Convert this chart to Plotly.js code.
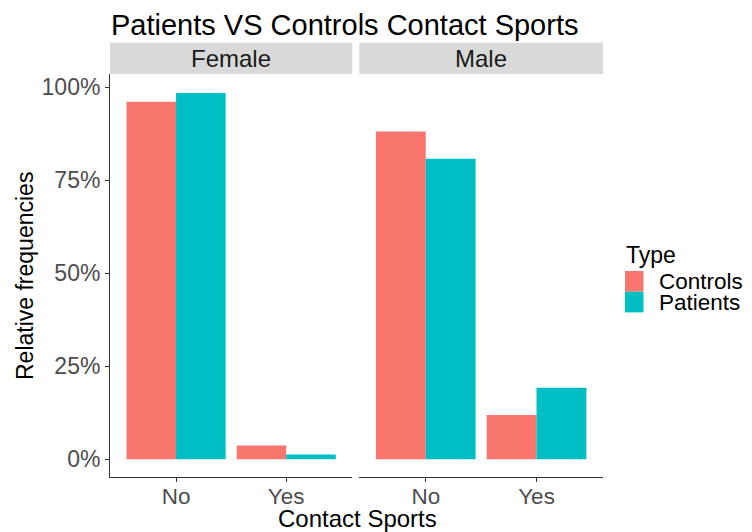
<!DOCTYPE html>
<html>
<head>
<meta charset="utf-8">
<script src="https://cdn.plot.ly/plotly-3.0.1.min.js"></script>
<style>html,body{margin:0;padding:0;background:#fff;}#chart{width:752px;height:532px;}</style>
</head>
<body>
<div id="chart"></div>
<script>
// Data
const panels = ["Female", "Male"];
const categories = ["No", "Yes"];
const controlsFemale = [0.961, 0.037];
const patientsFemale = [0.985, 0.013];
const controlsMale = [0.881, 0.119];
const patientsMale = [0.808, 0.192];
const seriesNames = ["Controls", "Patients"];
const seriesColors = ["#F8766D", "#00BFC4"];
const legendTitle = "Type";

const FONT = "Liberation Sans, Arial, sans-serif";

const traces = [
  {type: "bar", name: seriesNames[0], x: categories, y: controlsFemale, xaxis: "x", yaxis: "y",
   marker: {color: seriesColors[0]}, showlegend: false},
  {type: "bar", name: seriesNames[1], x: categories, y: patientsFemale, xaxis: "x", yaxis: "y",
   marker: {color: seriesColors[1]}, showlegend: false},
  {type: "bar", name: seriesNames[0], x: categories, y: controlsMale, xaxis: "x2", yaxis: "y2",
   marker: {color: seriesColors[0]}, showlegend: false},
  {type: "bar", name: seriesNames[1], x: categories, y: patientsMale, xaxis: "x2", yaxis: "y2",
   marker: {color: seriesColors[1]}, showlegend: false}
];

// plot area in pixels: x 110..603, y 74..477
const L = 110, R = 603, T = 74, B = 477;
const W = R - L, H = B - T;
const px = v => (v - L) / W;
const py = v => (B - v) / H;

const yRange = [-0.0476, 1.0358];
const xCommon = {
  type: "category", categoryorder: "array", categoryarray: categories,
  range: [-0.6, 1.6], showgrid: false, zeroline: false,
  showline: true, linecolor: "#333333", linewidth: 1,
  ticks: "outside", ticklen: 4, tickcolor: "#333333", tickwidth: 1,
  ticklabelstandoff: -5,
  tickfont: {family: FONT, size: 22.5, color: "#4D4D4D"}, fixedrange: true
};
const d1 = [0, px(352.3)], d2 = [px(359.3), 1];

const shapes = [
  {type: "rect", xref: "paper", yref: "paper", x0: d1[0], x1: d1[1], y0: 1.0, y1: py(42.7),
   fillcolor: "#D9D9D9", line: {width: 0}, layer: "below"},
  {type: "rect", xref: "paper", yref: "paper", x0: d2[0], x1: d2[1], y0: 1.0, y1: py(42.7),
   fillcolor: "#D9D9D9", line: {width: 0}, layer: "below"}
];
const annotations = [
  {text: panels[0], xref: "paper", yref: "paper", x: (d1[0]+d1[1])/2, y: py(58.5), showarrow: false,
   xanchor: "center", yanchor: "middle", font: {family: FONT, size: 24, color: "#1A1A1A"}},
  {text: panels[1], xref: "paper", yref: "paper", x: (d2[0]+d2[1])/2, y: py(58.5), showarrow: false,
   xanchor: "center", yanchor: "middle", font: {family: FONT, size: 24, color: "#1A1A1A"}},
  {text: "Contact Sports", xref: "paper", yref: "paper", x: px(357), y: py(518), showarrow: false,
   xanchor: "center", yanchor: "middle", font: {family: FONT, size: 24, color: "#000000"}},
  {text: "Relative frequencies", xref: "paper", yref: "paper", x: px(25), y: py(276), showarrow: false,
   textangle: -90, xanchor: "center", yanchor: "middle", font: {family: FONT, size: 23, color: "#000000"}},
  {text: legendTitle, xref: "paper", yref: "paper", x: px(624), y: py(255), showarrow: false,
   xanchor: "left", yanchor: "middle", font: {family: FONT, size: 23, color: "#000000"}}
];
// custom ggplot-style legend keys
seriesNames.forEach((nm, i) => {
  const y0 = 271 + i * 20.7, y1 = y0 + 20.7;
  shapes.push({type: "rect", xref: "paper", yref: "paper", x0: px(625), x1: px(643.5),
               y0: py(y1), y1: py(y0), fillcolor: seriesColors[i], line: {width: 0}});
  annotations.push({text: nm, xref: "paper", yref: "paper", x: px(657), y: py((y0 + y1) / 2),
                    showarrow: false, xanchor: "left", yanchor: "middle",
                    font: {family: FONT, size: 22.5, color: "#000000"}});
});

const layout = {
  width: 752, height: 532,
  margin: {l: L, r: 752 - R, t: T, b: 532 - B},
  paper_bgcolor: "#ffffff", plot_bgcolor: "#ffffff",
  font: {family: FONT, color: "#000000"},
  barmode: "group", bargap: 0.1, bargroupgap: 0,
  showlegend: false,
  title: {text: "Patients VS Controls Contact Sports", font: {family: FONT, size: 29, color: "#000000"},
          x: 111/752, xanchor: "left", xref: "container", y: 1 - 25/532, yanchor: "middle", yref: "container"},
  xaxis: Object.assign({}, xCommon, {domain: d1, anchor: "y"}),
  xaxis2: Object.assign({}, xCommon, {domain: d2, anchor: "y2"}),
  yaxis: {range: yRange, domain: [0, 1], anchor: "x", tickformat: ".0%",
          tickvals: [0, 0.25, 0.5, 0.75, 1], showgrid: false, zeroline: false,
          showline: true, linecolor: "#333333", linewidth: 1,
          ticks: "outside", ticklen: 4, tickcolor: "#333333",
          tickfont: {family: FONT, size: 23, color: "#4D4D4D"}, fixedrange: true},
  yaxis2: {range: yRange, domain: [0, 1], anchor: "x2", matches: "y", showticklabels: false,
           showgrid: false, zeroline: false, showline: false, ticks: "", fixedrange: true},
  shapes: shapes,
  annotations: annotations
};

Plotly.newPlot("chart", traces, layout, {displayModeBar: false, staticPlot: true});
</script>
</body>
</html>
